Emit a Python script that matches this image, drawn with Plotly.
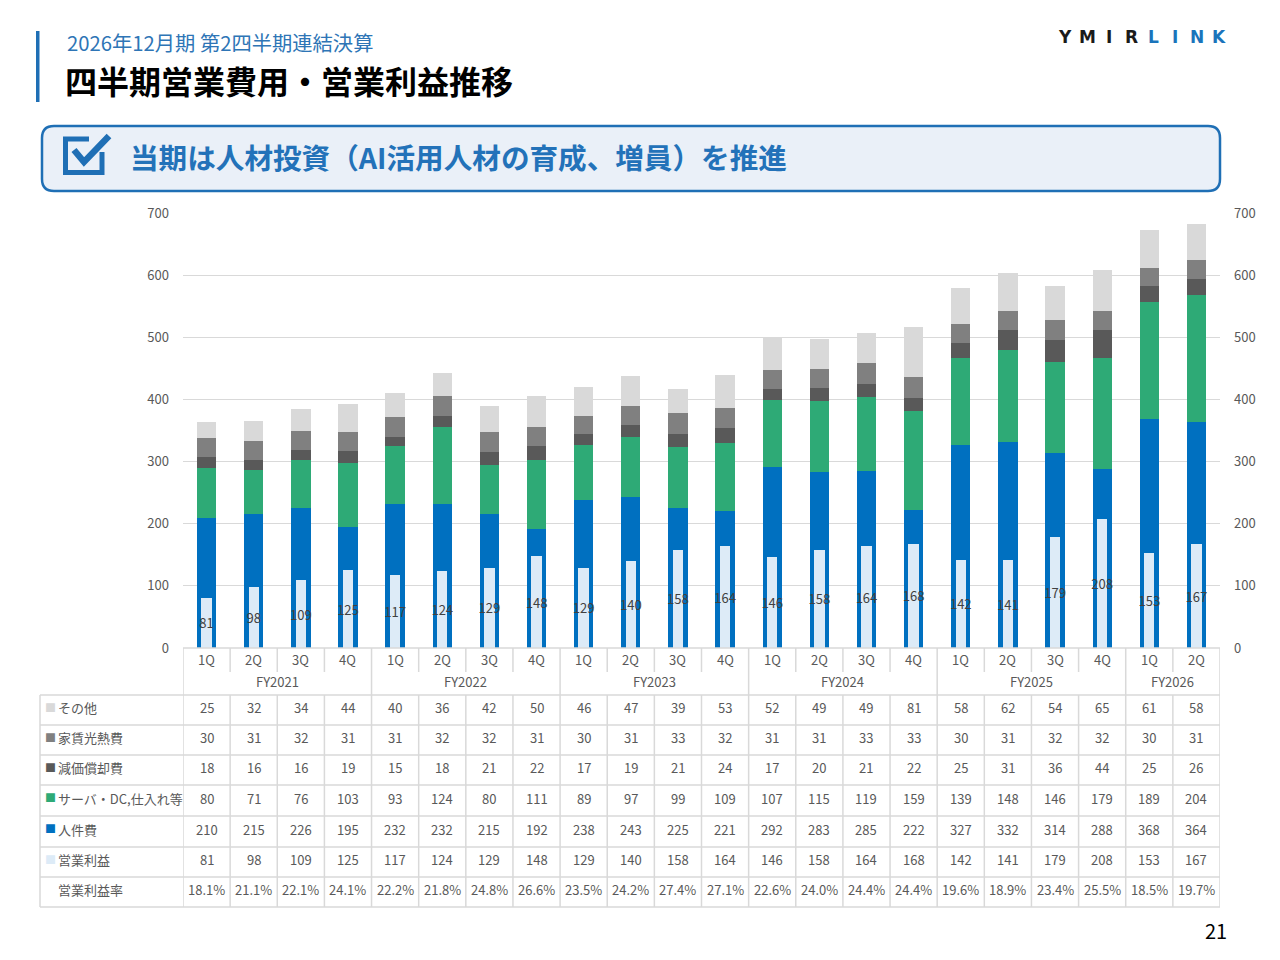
import plotly.graph_objects as go

# データ（百万円）
quarters = ["1Q", "2Q", "3Q", "4Q"] * 5 + ["1Q", "2Q"]
fiscal_years = ["FY2021", "FY2022", "FY2023", "FY2024", "FY2025", "FY2026"]
fy_quarter_counts = [4, 4, 4, 4, 4, 2]

other = [25, 32, 34, 44, 40, 36, 42, 50, 46, 47, 39, 53, 52, 49, 49, 81, 58, 62, 54, 65, 61, 58]
rent = [30, 31, 32, 31, 31, 32, 32, 31, 30, 31, 33, 32, 31, 31, 33, 33, 30, 31, 32, 32, 30, 31]
depreciation = [18, 16, 16, 19, 15, 18, 21, 22, 17, 19, 21, 24, 17, 20, 21, 22, 25, 31, 36, 44, 25, 26]
server = [80, 71, 76, 103, 93, 124, 80, 111, 89, 97, 99, 109, 107, 115, 119, 159, 139, 148, 146, 179, 189, 204]
personnel = [210, 215, 226, 195, 232, 232, 215, 192, 238, 243, 225, 221, 292, 283, 285, 222, 327, 332, 314, 288, 368, 364]
profit = [81, 98, 109, 125, 117, 124, 129, 148, 129, 140, 158, 164, 146, 158, 164, 168, 142, 141, 179, 208, 153, 167]
profit_margin = ["18.1%", "21.1%", "22.1%", "24.1%", "22.2%", "21.8%", "24.8%", "26.6%", "23.5%", "24.2%", "27.4%",
                 "27.1%", "22.6%", "24.0%", "24.4%", "24.4%", "19.6%", "18.9%", "23.4%", "25.5%", "18.5%", "19.7%"]

y_ticks = [0, 100, 200, 300, 400, 500, 600, 700]

C_PERSONNEL = "#0070C0"
C_SERVER = "#2EAA76"
C_DEPR = "#595959"
C_RENT = "#808080"
C_OTHER = "#D9D9D9"
C_PROFIT = "#DDEBF7"
C_BLUE = "#1F6FB5"
C_GRID = "#D9D9D9"
C_TXT = "#595959"
JP = "Noto Sans CJK JP"

x = list(range(len(quarters)))

# ページの余白 8px を差し引いて、参照画像のピクセル -> paper 座標
OFF = 8
FW, FH = 1280 - OFF, 960 - OFF
L, R, T, B = 183 - OFF, 1220 - OFF, 213 - OFF, 648 - OFF
W, H = R - L, B - T


def px(v):
    return (v - OFF - L) / W


def py(v):
    return (B - (v - OFF)) / H


fig = go.Figure()

stack = [
    ("人件費", personnel, C_PERSONNEL),
    ("サーバ・DC,仕入れ等", server, C_SERVER),
    ("減価償却費", depreciation, C_DEPR),
    ("家賃光熱費", rent, C_RENT),
    ("その他", other, C_OTHER),
]
for name, vals, col in stack:
    fig.add_trace(go.Bar(x=x, y=vals, name=name, marker=dict(color=col, line_width=0),
                         width=0.41, showlegend=False, hoverinfo="skip"))

# 営業利益（細い棒を重ねる）
fig.add_trace(go.Bar(x=x, y=profit, name="営業利益", yaxis="y2",
                     marker=dict(color=C_PROFIT, line_width=0), width=0.22,
                     text=[str(v) for v in profit], textposition="inside",
                     insidetextanchor="middle", textangle=0, constraintext="none",
                     textfont=dict(family=JP, size=13, color="#404040"),
                     showlegend=False, hoverinfo="skip"))

axis_common = dict(range=[0, 700], tickvals=y_ticks, showline=False, zeroline=False,
                   tickfont=dict(family=JP, size=13, color=C_TXT), ticks="")
fig.update_layout(
    width=FW, height=FH,
    margin=dict(l=L, r=FW - R, t=T, b=FH - B, pad=0),
    paper_bgcolor="white", plot_bgcolor="white",
    barmode="stack",
    xaxis=dict(range=[-0.5, len(x) - 0.5], showticklabels=False, showgrid=False,
               zeroline=False, showline=False, fixedrange=True),
    yaxis=dict(**axis_common, showgrid=True, gridcolor=C_GRID, gridwidth=1, ticklabelstandoff=13),
    yaxis2=dict(**axis_common, overlaying="y", side="right", showgrid=False, ticklabelstandoff=13),
)

shapes = []
ann = []


def text_at(xv, yv, s, size=13, color=C_TXT, xref="paper", xanchor="center", family=JP):
    ann.append(dict(x=xv, y=yv, xref=xref, yref="paper", text=s, showarrow=False,
                    xanchor=xanchor, yanchor="middle", font=dict(family=family, size=size, color=color)))


def hline(x0, x1, y, xref="paper"):
    shapes.append(dict(type="line", xref=xref, yref="paper", x0=x0, x1=x1, y0=py(y), y1=py(y),
                       line=dict(color=C_GRID, width=1.5)))


def vline(xv, y0, y1, xref="x"):
    shapes.append(dict(type="line", xref=xref, yref="paper", x0=xv, x1=xv, y0=py(y0), y1=py(y1),
                       line=dict(color=C_GRID, width=1.5)))


# 表の罫線
row_lines = [695, 725, 755, 785, 816, 847, 877, 907]
hline(0, 1, 648)
for yv in row_lines:
    hline(px(40), 1, yv)
vline(px(40), 695, 907, xref="paper")
fy_edges = [-0.5]
for n in fy_quarter_counts:
    fy_edges.append(fy_edges[-1] + n)
for k in range(len(x) + 1):
    edge = k - 0.5
    if edge in fy_edges:
        vline(edge, 648, 907)
    else:
        vline(edge, 648, 672)
        vline(edge, 695, 907)

# 四半期・年度ラベル
for i, q in enumerate(quarters):
    text_at(i, py(659), q, xref="x")
for k, fy in enumerate(fiscal_years):
    text_at((fy_edges[k] + fy_edges[k + 1]) / 2, py(681), fy, xref="x")

# 表の中身
rows = [
    ("その他", C_OTHER, other),
    ("家賃光熱費", C_RENT, rent),
    ("減価償却費", C_DEPR, depreciation),
    ("サーバ・DC,仕入れ等", C_SERVER, server),
    ("人件費", C_PERSONNEL, personnel),
    ("営業利益", C_PROFIT, profit),
    ("営業利益率", None, profit_margin),
]
for r, (label, col, vals) in enumerate(rows):
    yc = (row_lines[r] + row_lines[r + 1]) / 2 - 2.5
    if col:
        text_at(px(43), py(yc - 1), "■", size=11, color=col, xanchor="left")
    text_at(px(56), py(yc), label, xanchor="left")
    for i, v in enumerate(vals):
        text_at(i, py(yc), str(v), xref="x")

# ヘッダー
shapes.append(dict(type="rect", xref="paper", yref="paper", x0=px(36), x1=px(39.5), y0=py(31), y1=py(102),
                   fillcolor=C_BLUE, line_width=0))
text_at(px(65), py(42), "2026年12月期 第2四半期連結決算", size=20.3, color="#2E75B6", xanchor="left")
text_at(px(63), py(80), "<b>四半期営業費用・営業利益推移</b>", size=32, color="#000000", xanchor="left")

logo = ["Y", "M", "I", "R", "L", "I", "N", "K"]
for j, ch in enumerate(logo):
    text_at(px(1065 + j * 22.0), py(37), f"<b>{ch}</b>", size=17,
            color="#1A1A1A" if j < 4 else "#1A74BB", family="DejaVu Sans")

# バナー（角丸）
bx0, bx1, by0, by1, rad = 42, 1220, 126, 191, 12
rx, ry = rad / W, rad / H
path = (f"M {px(bx0) + rx},{py(by0)} L {px(bx1) - rx},{py(by0)} Q {px(bx1)},{py(by0)} {px(bx1)},{py(by0) - ry} "
        f"L {px(bx1)},{py(by1) + ry} Q {px(bx1)},{py(by1)} {px(bx1) - rx},{py(by1)} "
        f"L {px(bx0) + rx},{py(by1)} Q {px(bx0)},{py(by1)} {px(bx0)},{py(by1) + ry} "
        f"L {px(bx0)},{py(by0) - ry} Q {px(bx0)},{py(by0)} {px(bx0) + rx},{py(by0)} Z")
shapes.append(dict(type="path", xref="paper", yref="paper", path=path, fillcolor="#EAF0F8",
                   line=dict(color=C_BLUE, width=2.5)))

# チェックボックスのアイコン
box = (f"M {px(89)},{py(139)} L {px(65.5)},{py(139)} L {px(65.5)},{py(172.5)} L {px(102)},{py(172.5)} "
       f"L {px(102)},{py(152)}")
shapes.append(dict(type="path", xref="paper", yref="paper", path=box, line=dict(color=C_BLUE, width=5)))
check = f"M {px(74)},{py(150)} L {px(84)},{py(162)} L {px(109)},{py(136)}"
shapes.append(dict(type="path", xref="paper", yref="paper", path=check, line=dict(color=C_BLUE, width=6.5)))

text_at(px(128), py(157), "<b>当期は人材投資（AI活用人材の育成、増員）を推進</b>", size=28.6,
        color="#2372B9", xanchor="left")

text_at(px(1229), py(930), "21", size=20, color="#000000", xanchor="right")

fig.update_layout(shapes=shapes, annotations=ann)

fig.write_html("out.html")
